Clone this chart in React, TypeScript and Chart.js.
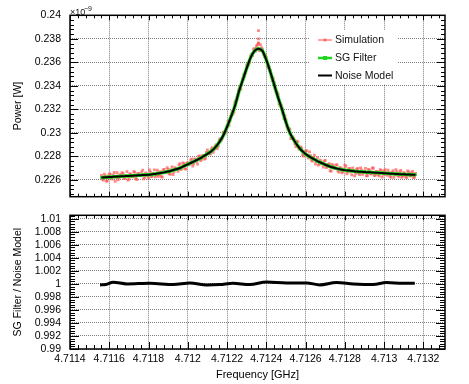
import React, { useEffect, useRef } from 'react';
import { Chart, registerables } from 'chart.js';
Chart.register(...registerables);

const FONT = '"Liberation Sans", Arial, Helvetica, sans-serif';

// ---------- data ----------
const simFreq = [
  4.71156, 4.71157, 4.71158, 4.71159, 4.7116, 4.71161, 4.71162, 4.71163, 4.71164, 4.71165,
  4.71166, 4.71167, 4.71168, 4.71169, 4.7117, 4.71171, 4.71172, 4.71173, 4.71174, 4.71175,
  4.71176, 4.71177, 4.71178, 4.71179, 4.7118, 4.71181, 4.71182, 4.71183, 4.71184, 4.71185,
  4.71186, 4.71187, 4.71188, 4.71189, 4.7119, 4.71191, 4.71192, 4.71193, 4.71194, 4.71195,
  4.71196, 4.71197, 4.71198, 4.71199, 4.712, 4.71201, 4.71202, 4.71203, 4.71204, 4.71205,
  4.71206, 4.71207, 4.71208, 4.71209, 4.7121, 4.71211, 4.71212, 4.71213, 4.71214, 4.71215,
  4.71216, 4.71217, 4.71218, 4.71219, 4.7122, 4.71221, 4.71222, 4.71223, 4.71224, 4.71225,
  4.71226, 4.71227, 4.71228, 4.71229, 4.7123, 4.71231, 4.71232, 4.71233, 4.71234, 4.71235,
  4.71236, 4.71237, 4.71238, 4.71239, 4.7124, 4.71241, 4.71242, 4.71243, 4.71244, 4.71245,
  4.71246, 4.71247, 4.71248, 4.71249, 4.7125, 4.71251, 4.71252, 4.71253, 4.71254, 4.71255,
  4.71256, 4.71257, 4.71258, 4.71259, 4.7126, 4.71261, 4.71262, 4.71263, 4.71264, 4.71265,
  4.71266, 4.71267, 4.71268, 4.71269, 4.7127, 4.71271, 4.71272, 4.71273, 4.71274, 4.71275,
  4.71276, 4.71277, 4.71278, 4.71279, 4.7128, 4.71281, 4.71282, 4.71283, 4.71284, 4.71285,
  4.71286, 4.71287, 4.71288, 4.71289, 4.7129, 4.71291, 4.71292, 4.71293, 4.71294, 4.71295,
  4.71296, 4.71297, 4.71298, 4.71299, 4.713, 4.71301, 4.71302, 4.71303, 4.71304, 4.71305,
  4.71306, 4.71307, 4.71308, 4.71309, 4.7131, 4.71311, 4.71312, 4.71313, 4.71314, 4.71315,
  4.71316,
  4.71235, 4.71236, 4.71236, 4.71236, 4.71237,
];
const simPower = [
  0.22638, 0.22599, 0.22631, 0.22592, 0.22651, 0.22619, 0.2264, 0.22587, 0.22661, 0.22617,
  0.22635, 0.22655, 0.22613, 0.22671, 0.22607, 0.22646, 0.22628, 0.22666, 0.22603, 0.22655,
  0.22637, 0.22683, 0.22621, 0.2265, 0.22614, 0.22666, 0.22634, 0.22685, 0.22643, 0.2263,
  0.22671, 0.22624, 0.2269, 0.22664, 0.2269, 0.22647, 0.22711, 0.22669, 0.22698, 0.22672,
  0.22737, 0.22698, 0.22739, 0.22692, 0.22747, 0.22734, 0.22776, 0.22736, 0.22774, 0.22734,
  0.22804, 0.22775, 0.22807, 0.22784, 0.22854, 0.22823, 0.22861, 0.22834, 0.22888, 0.22867,
  0.22941, 0.22933, 0.23003, 0.22992, 0.23059, 0.23064, 0.23151, 0.2316, 0.23258, 0.2328,
  0.23368, 0.23371, 0.23461, 0.23484, 0.23575, 0.2358, 0.23655, 0.23658, 0.23717, 0.23718,
  0.23761, 0.23702, 0.23712, 0.2365, 0.23642, 0.23556, 0.23529, 0.23445, 0.23429, 0.23352,
  0.23327, 0.23233, 0.23212, 0.23122, 0.23111, 0.23029, 0.2303, 0.22951, 0.22948, 0.22884,
  0.22924, 0.22858, 0.22869, 0.22802, 0.22845, 0.22802, 0.22838, 0.22766, 0.22791, 0.22735,
  0.22789, 0.22737, 0.2275, 0.22708, 0.22766, 0.22712, 0.22737, 0.22674, 0.22721, 0.22696,
  0.22727, 0.22667, 0.22698, 0.22668, 0.22725, 0.22652, 0.22693, 0.22669, 0.22701, 0.22634,
  0.22689, 0.22656, 0.22702, 0.22647, 0.22674, 0.22634, 0.22689, 0.22653, 0.22701, 0.22636,
  0.22673, 0.22643, 0.22688, 0.22623, 0.22677, 0.2265, 0.22682, 0.22631, 0.22663, 0.22622,
  0.22686, 0.22637, 0.22671, 0.22621, 0.22662, 0.22627, 0.22677, 0.22637, 0.22662, 0.2262,
  0.22655,
  0.2374, 0.2387, 0.238, 0.23765, 0.2375,
];
// second interleaved set of simulation samples
const simFreqB = [
  4.711565, 4.711575, 4.711585, 4.711595, 4.711605, 4.711615, 4.711625, 4.711635, 4.711645, 4.711655,
  4.711665, 4.711675, 4.711685, 4.711695, 4.711705, 4.711715, 4.711725, 4.711735, 4.711745, 4.711755,
  4.711765, 4.711775, 4.711785, 4.711795, 4.711805, 4.711815, 4.711825, 4.711835, 4.711845, 4.711855,
  4.711865, 4.711875, 4.711885, 4.711895, 4.711905, 4.711915, 4.711925, 4.711935, 4.711945, 4.711955,
  4.711965, 4.711975, 4.711985, 4.711995, 4.712005, 4.712015, 4.712025, 4.712035, 4.712045, 4.712055,
  4.712065, 4.712075, 4.712085, 4.712095, 4.712105, 4.712115, 4.712125, 4.712135, 4.712145, 4.712155,
  4.712165, 4.712175, 4.712185, 4.712195, 4.712205, 4.712215, 4.712225, 4.712235, 4.712245, 4.712255,
  4.712265, 4.712275, 4.712285, 4.712295, 4.712305, 4.712315, 4.712325, 4.712335, 4.712345, 4.712355,
  4.712365, 4.712375, 4.712385, 4.712395, 4.712405, 4.712415, 4.712425, 4.712435, 4.712445, 4.712455,
  4.712465, 4.712475, 4.712485, 4.712495, 4.712505, 4.712515, 4.712525, 4.712535, 4.712545, 4.712555,
  4.712565, 4.712575, 4.712585, 4.712595, 4.712605, 4.712615, 4.712625, 4.712635, 4.712645, 4.712655,
  4.712665, 4.712675, 4.712685, 4.712695, 4.712705, 4.712715, 4.712725, 4.712735, 4.712745, 4.712755,
  4.712765, 4.712775, 4.712785, 4.712795, 4.712805, 4.712815, 4.712825, 4.712835, 4.712845, 4.712855,
  4.712865, 4.712875, 4.712885, 4.712895, 4.712905, 4.712915, 4.712925, 4.712935, 4.712945, 4.712955,
  4.712965, 4.712975, 4.712985, 4.712995, 4.713005, 4.713015, 4.713025, 4.713035, 4.713045, 4.713055,
  4.713065, 4.713075, 4.713085, 4.713095, 4.713105, 4.713115, 4.713125, 4.713135, 4.713145, 4.713155,
];
const simPowerB = [
  0.22606, 0.22649, 0.2259, 0.22632, 0.22646, 0.22607, 0.22663, 0.22621, 0.22601, 0.22644,
  0.22661, 0.22611, 0.22637, 0.22598, 0.22654, 0.22625, 0.2267, 0.22612, 0.22651, 0.22636,
  0.22666, 0.2261, 0.2266, 0.22635, 0.22684, 0.22629, 0.22655, 0.22627, 0.22682, 0.22644,
  0.2263, 0.22685, 0.2266, 0.22704, 0.22653, 0.22688, 0.22646, 0.22703, 0.22691, 0.22727,
  0.22688, 0.22744, 0.22696, 0.2274, 0.22728, 0.2277, 0.22718, 0.22778, 0.22756, 0.22799,
  0.22764, 0.22805, 0.22777, 0.22833, 0.2283, 0.22819, 0.22875, 0.2286, 0.229, 0.22887,
  0.22951, 0.22952, 0.23005, 0.23014, 0.23095, 0.23103, 0.2318, 0.23178, 0.23273, 0.23315,
  0.23394, 0.23411, 0.23497, 0.23515, 0.23591, 0.23599, 0.23667, 0.23712, 0.23696, 0.23748,
  0.23699, 0.23725, 0.23671, 0.23661, 0.23571, 0.23554, 0.23477, 0.23466, 0.23375, 0.23345,
  0.23247, 0.23238, 0.23155, 0.23144, 0.23056, 0.23038, 0.22954, 0.22966, 0.22909, 0.22929,
  0.22867, 0.22881, 0.22815, 0.22835, 0.22848, 0.22786, 0.22807, 0.22759, 0.22811, 0.22755,
  0.22725, 0.22767, 0.22734, 0.2276, 0.22704, 0.22731, 0.22678, 0.22731, 0.227, 0.22728,
  0.22675, 0.22707, 0.2266, 0.22694, 0.22716, 0.22668, 0.22698, 0.22643, 0.22681, 0.22655,
  0.22697, 0.22646, 0.22682, 0.2266, 0.22698, 0.22637, 0.22683, 0.2265, 0.22699, 0.22641,
  0.22671, 0.22634, 0.22681, 0.22647, 0.22686, 0.22638, 0.2266, 0.22622, 0.22678, 0.22645,
  0.22668, 0.22627, 0.22681, 0.22633, 0.22656, 0.22619, 0.22667, 0.22633, 0.22672, 0.22624,
];

const modelFreq = [
  4.71156, 4.71158, 4.7116, 4.71162, 4.71164, 4.71166, 4.71168, 4.7117, 4.71172, 4.71174,
  4.71176, 4.71178, 4.7118, 4.71182, 4.71184, 4.71186, 4.71188, 4.7119, 4.71192, 4.71194,
  4.71196, 4.71198, 4.712, 4.71202, 4.71204, 4.71206, 4.71208, 4.7121, 4.71212, 4.71214,
  4.71216, 4.71218, 4.7122, 4.71222, 4.71224, 4.71226, 4.71228, 4.7123, 4.71232, 4.71234,
  4.71236, 4.71238, 4.7124, 4.71242, 4.71244, 4.71246, 4.71248, 4.7125, 4.71252, 4.71254,
  4.71256, 4.71258, 4.7126, 4.71262, 4.71264, 4.71266, 4.71268, 4.7127, 4.71272, 4.71274,
  4.71276, 4.71278, 4.7128, 4.71282, 4.71284, 4.71286, 4.71288, 4.7129, 4.71292, 4.71294,
  4.71296, 4.71298, 4.713, 4.71302, 4.71304, 4.71306, 4.71308, 4.7131, 4.71312, 4.71314,
  4.71316,
];
const noiseModel = [
  0.2262, 0.22622, 0.22624, 0.22626, 0.22628, 0.2263, 0.22632, 0.22634, 0.22636, 0.22638,
  0.2264, 0.22642, 0.22644, 0.22648, 0.22652, 0.22658, 0.22664, 0.22671, 0.2268, 0.2269,
  0.22701, 0.22717, 0.22732, 0.22748, 0.22764, 0.2278, 0.22801, 0.22822, 0.22844, 0.22876,
  0.2292, 0.22976, 0.2305, 0.23137, 0.23228, 0.2335, 0.2345, 0.2355, 0.2364, 0.23697,
  0.23716, 0.23698, 0.2362, 0.2352, 0.2341, 0.233, 0.232, 0.2309, 0.23, 0.2294,
  0.2289, 0.2285, 0.2282, 0.22798, 0.22778, 0.2276, 0.22744, 0.22729, 0.22716, 0.22705,
  0.22696, 0.22689, 0.22683, 0.22679, 0.22675, 0.22671, 0.22669, 0.22667, 0.22665, 0.22663,
  0.22661, 0.22659, 0.22657, 0.22655, 0.22653, 0.22651, 0.22649, 0.22647, 0.22646, 0.22644,
  0.22643,
];
const sgFilter = [
  0.2262, 0.22622, 0.22625, 0.22626, 0.22628, 0.2263, 0.22633, 0.22634, 0.22636, 0.22638,
  0.2264, 0.22643, 0.22644, 0.22648, 0.22652, 0.22658, 0.22664, 0.22671, 0.2268, 0.2269,
  0.22701, 0.22717, 0.22733, 0.22748, 0.22764, 0.2278, 0.22801, 0.22822, 0.22844, 0.22876,
  0.2292, 0.22976, 0.2305, 0.23137, 0.23228, 0.2335, 0.2345, 0.2355, 0.2364, 0.23697,
  0.23716, 0.23698, 0.2362, 0.2352, 0.2341, 0.233, 0.232, 0.2309, 0.23, 0.2294,
  0.2289, 0.2285, 0.2282, 0.22798, 0.22778, 0.2276, 0.22744, 0.22729, 0.22716, 0.22705,
  0.22696, 0.22689, 0.22683, 0.22679, 0.22675, 0.22671, 0.22669, 0.22667, 0.22665, 0.22663,
  0.22661, 0.22659, 0.22657, 0.22655, 0.22653, 0.22651, 0.22649, 0.22647, 0.22646, 0.22644,
  0.22643,
];

const ratioFreq = [
  4.711553, 4.711583, 4.71162, 4.711689, 4.711807, 4.711926, 4.712011, 4.712096, 4.712163,
  4.71223, 4.712316, 4.712401, 4.712503, 4.712605, 4.712672, 4.712757, 4.712842, 4.712944,
  4.713012, 4.713096, 4.713156,
];
const ratioValue = [
  0.99985, 0.9999, 1.00025, 1.0, 1.0001, 0.9999, 1.00015, 0.99985, 0.9999,
  1.0001, 0.9999, 1.0003, 1.00015, 1.00015, 0.99985, 1.0002, 1.0, 0.9999,
  1.0002, 1.0001, 1.0001,
];

const xTicks = [4.7114, 4.7116, 4.7118, 4.712, 4.7122, 4.7124, 4.7126, 4.7128, 4.713, 4.7132];
const xTickLabels = ['4.7114', '4.7116', '4.7118', '4.712', '4.7122', '4.7124', '4.7126', '4.7128', '4.713', '4.7132'];
const powerTicks = [0.226, 0.228, 0.23, 0.232, 0.234, 0.236, 0.238, 0.24];
const powerTickLabels = ['0.226', '0.228', '0.23', '0.232', '0.234', '0.236', '0.238', '0.24'];
const ratioTicks = [0.99, 0.992, 0.994, 0.996, 0.998, 1.0, 1.002, 1.004, 1.006, 1.008, 1.01];
const ratioTickLabels = ['0.99', '0.992', '0.994', '0.996', '0.998', '1', '1.002', '1.004', '1.006', '1.008', '1.01'];

const X_MIN = 4.7114;
const X_MAX = 4.71331;
const P_MIN = 0.22457;
const P_MAX = 0.24;
const R_MIN = 0.99;
const R_MAX = 1.01054;

const legendItems = ['Simulation', 'SG Filter', 'Noise Model'];

const SIM_COLOR = 'rgba(255,80,80,0.68)';
const SG_COLOR = 'rgb(30,215,30)';
const GRID_COLOR = 'rgba(0,0,0,0.5)';

// ---------- plugins ----------
type FrameCfg = {
  yFirst: number; yMinor: number; yMajorLen: number; yMinorLen: number;
  xBotMajor: number; xBotMinor: number; xTopMajor: number; xTopMinor: number;
};
function framePlugin(cfg: FrameCfg) {
  return {
    id: 'frameTicks',
    afterDatasetsDraw(chart: any) {
      const { ctx, chartArea: a, scales } = chart;
      const xs = scales.x, ys = scales.y;
      const eps = 1e-9;
      ctx.save();
      ctx.strokeStyle = '#000';
      ctx.lineWidth = 1;
      ctx.beginPath();
      for (let j = -40; j <= 80; j++) {
        const v = cfg.yFirst + j * cfg.yMinor;
        if (v < ys.min - eps || v > ys.max + eps) continue;
        const p = Math.round(ys.getPixelForValue(v)) + 0.5;
        const len = j % 5 === 0 ? cfg.yMajorLen : cfg.yMinorLen;
        ctx.moveTo(a.left, p); ctx.lineTo(a.left + len, p);
        ctx.moveTo(a.right, p); ctx.lineTo(a.right - len, p);
      }
      for (let j = -10; j <= 60; j++) {
        const v = xTicks[0] + j * 0.00004;
        if (v < xs.min - eps || v > xs.max + eps) continue;
        const p = Math.round(xs.getPixelForValue(v)) + 0.5;
        const major = j % 5 === 0;
        const lb = major ? cfg.xBotMajor : cfg.xBotMinor;
        const lt = major ? cfg.xTopMajor : cfg.xTopMinor;
        ctx.moveTo(p, a.bottom); ctx.lineTo(p, a.bottom - lb);
        ctx.moveTo(p, a.top); ctx.lineTo(p, a.top + lt);
      }
      ctx.stroke();
      ctx.lineWidth = 1.5;
      ctx.strokeRect(a.left, a.top, a.right - a.left, a.bottom - a.top);
      ctx.restore();
    },
  };
}

const legendPlugin = {
  id: 'rootLegend',
  afterDraw(chart: any) {
    const { ctx, chartArea: a } = chart;
    ctx.save();
    ctx.fillStyle = '#fff';
    ctx.fillRect(310, 30, 88, 54);
    const ys = [40, 58, 75.5];
    ctx.font = `10.5px ${FONT}`;
    ctx.textBaseline = 'middle';
    ctx.textAlign = 'left';
    legendItems.forEach((t, i) => {
      const y = ys[i];
      if (i === 0) {
        ctx.strokeStyle = SIM_COLOR; ctx.lineWidth = 1.5;
        ctx.beginPath(); ctx.moveTo(318, y); ctx.lineTo(332, y); ctx.stroke();
        ctx.fillStyle = SIM_COLOR; ctx.fillRect(323.5, y - 1.5, 3, 3);
      } else if (i === 1) {
        ctx.strokeStyle = SG_COLOR; ctx.lineWidth = 2.5;
        ctx.beginPath(); ctx.moveTo(318, y); ctx.lineTo(332, y); ctx.stroke();
        ctx.fillStyle = SG_COLOR; ctx.fillRect(323, y - 2, 4, 4);
      } else {
        ctx.strokeStyle = '#000'; ctx.lineWidth = 2;
        ctx.beginPath(); ctx.moveTo(318, y); ctx.lineTo(332, y); ctx.stroke();
      }
      ctx.fillStyle = '#111';
      ctx.fillText(t, 335, y + 0.5);
    });
    // exponent label
    ctx.fillStyle = '#111';
    ctx.textBaseline = 'alphabetic';
    ctx.font = `9px ${FONT}`;
    ctx.fillText('\u00d710', a.left, 15);
    ctx.font = `7px ${FONT}`;
    ctx.fillText('\u22129', a.left + 14, 10.5);
    ctx.restore();
  },
};

const tickFont = { family: FONT, size: 10.5 };

function topConfig(): any {
  const simData = simFreq.map((f, i) => ({ x: f, y: simPower[i] }))
    .concat(simFreqB.map((f, i) => ({ x: f, y: simPowerB[i] })));
  return {
    type: 'line',
    data: {
      datasets: [
        {
          label: 'Noise Model', order: 0,
          data: modelFreq.map((f, i) => ({ x: f, y: noiseModel[i] })),
          borderColor: '#000', borderWidth: 2, pointRadius: 0,
          cubicInterpolationMode: 'monotone', fill: false,
        },
        {
          label: 'SG Filter', order: 1,
          data: modelFreq.map((f, i) => ({ x: f, y: sgFilter[i] })),
          borderColor: SG_COLOR, borderWidth: 3.5, pointRadius: 1.8, pointStyle: 'rect',
          pointBackgroundColor: SG_COLOR, pointBorderWidth: 0,
          cubicInterpolationMode: 'monotone', fill: false,
        },
        {
          label: 'Simulation', order: 2,
          data: simData,
          showLine: false, pointRadius: 2, pointStyle: 'rect',
          pointBackgroundColor: SIM_COLOR, pointBorderWidth: 0,
        },
      ],
    },
    options: {
      responsive: false, animation: false, devicePixelRatio: 1,
      layout: { padding: { left: 0, right: 24, top: 15, bottom: 1 } },
      plugins: { legend: { display: false }, tooltip: { enabled: false } },
      scales: {
        x: {
          type: 'linear', min: X_MIN, max: X_MAX,
          afterBuildTicks: (s: any) => { s.ticks = xTicks.map((v) => ({ value: v })); },
          afterFit: (s: any) => { s.height = 0; },
          ticks: { display: false },
          grid: { color: GRID_COLOR, drawTicks: false, lineWidth: 1 },
          border: { display: false, dash: [1, 1] },
        },
        y: {
          type: 'linear', min: P_MIN, max: P_MAX,
          afterBuildTicks: (s: any) => { s.ticks = powerTicks.map((v) => ({ value: v })); },
          afterFit: (s: any) => { s.width = 70; },
          ticks: {
            font: tickFont, color: '#000', padding: 9, autoSkip: false,
            callback: (_v: any, i: number) => powerTickLabels[i],
          },
          grid: { color: GRID_COLOR, drawTicks: false, lineWidth: 1 },
          border: { display: false, dash: [1, 1] },
          title: {
            display: true, text: 'Power [W]', color: '#000',
            font: { family: FONT, size: 10.5 }, padding: { top: 12, bottom: 0 },
          },
        },
      },
    },
    plugins: [
      framePlugin({ yFirst: 0.226, yMinor: 0.0004, yMajorLen: 8, yMinorLen: 4, xBotMajor: 5, xBotMinor: 3, xTopMajor: 5, xTopMinor: 3 }),
      legendPlugin,
    ],
  };
}

function botConfig(): any {
  return {
    type: 'line',
    data: {
      datasets: [
        {
          label: 'SG Filter / Noise Model',
          data: ratioFreq.map((f, i) => ({ x: f, y: ratioValue[i] })),
          borderColor: '#000', borderWidth: 3, pointRadius: 0,
          cubicInterpolationMode: 'monotone', fill: false,
        },
      ],
    },
    options: {
      responsive: false, animation: false, devicePixelRatio: 1,
      layout: { padding: { left: 0, right: 24, top: 11, bottom: 0 } },
      plugins: { legend: { display: false }, tooltip: { enabled: false } },
      scales: {
        x: {
          type: 'linear', min: X_MIN, max: X_MAX,
          afterBuildTicks: (s: any) => { s.ticks = xTicks.map((v) => ({ value: v })); },
          afterFit: (s: any) => { s.height = 35; },
          ticks: {
            font: tickFont, color: '#000', padding: 4, autoSkip: false, maxRotation: 0,
            callback: (_v: any, i: number) => xTickLabels[i],
          },
          grid: { color: GRID_COLOR, drawTicks: false, lineWidth: 1 },
          border: { display: false, dash: [1, 1] },
          title: {
            display: true, text: 'Frequency [GHz]', color: '#000',
            font: { family: FONT, size: 11 }, padding: { top: 0, bottom: 2.4 },
          },
        },
        y: {
          type: 'linear', min: R_MIN, max: R_MAX,
          afterBuildTicks: (s: any) => { s.ticks = ratioTicks.map((v) => ({ value: v })); },
          afterFit: (s: any) => { s.width = 70; },
          ticks: {
            font: tickFont, color: '#000', padding: 9, autoSkip: false,
            callback: (_v: any, i: number) => ratioTickLabels[i],
          },
          grid: { color: GRID_COLOR, drawTicks: false, lineWidth: 1 },
          border: { display: false, dash: [1, 1] },
          title: {
            display: true, text: 'SG Filter / Noise Model', color: '#000',
            font: { family: FONT, size: 10.5 }, padding: { top: 12, bottom: 0 },
          },
        },
      },
    },
    plugins: [
      framePlugin({ yFirst: 0.99, yMinor: 0.0004, yMajorLen: 9, yMinorLen: 5, xBotMajor: 7, xBotMinor: 4, xTopMajor: 5, xTopMinor: 3 }),
    ],
  };
}

export default function App() {
  const topRef = useRef<HTMLCanvasElement>(null);
  const botRef = useRef<HTMLCanvasElement>(null);
  useEffect(() => {
    const top = new Chart(topRef.current as HTMLCanvasElement, topConfig());
    const bot = new Chart(botRef.current as HTMLCanvasElement, botConfig());
    return () => { top.destroy(); bot.destroy(); };
  }, []);
  return (
    <div style={{ position: 'fixed', left: 0, top: 0, width: 469, height: 384, background: '#fff' }}>
      <canvas ref={botRef} width={469} height={184} style={{ position: 'absolute', left: 0, top: 200 }} />
      <canvas ref={topRef} width={469} height={212} style={{ position: 'absolute', left: 0, top: 0 }} />
    </div>
  );
}
